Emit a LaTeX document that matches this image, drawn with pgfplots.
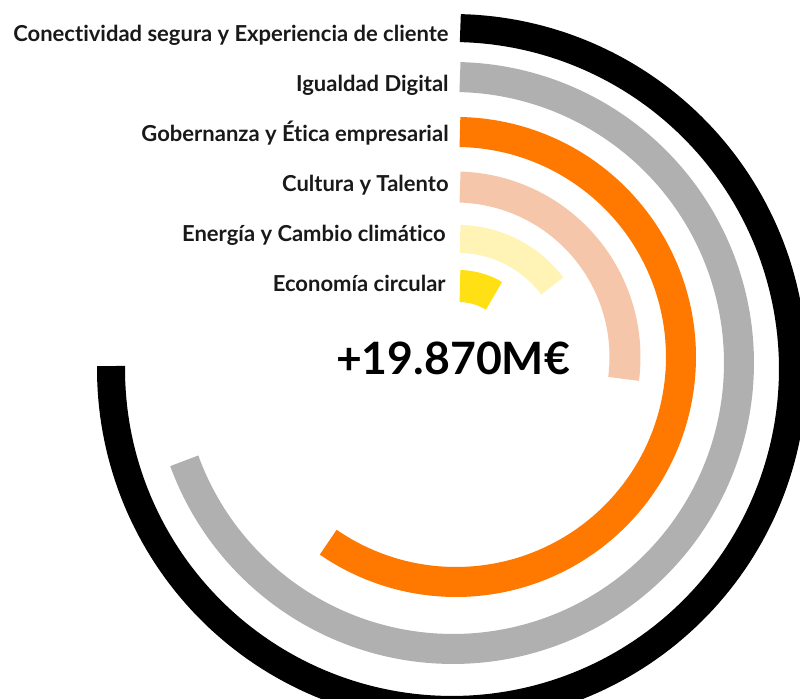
\documentclass[border=0pt]{standalone}
\usepackage{pgfplots}
\pgfplotsset{compat=1.18}
\usepgfplotslibrary{polar}
\usepackage{fontspec}
\setmainfont{Lato}[Ligatures=NoCommon]

\definecolor{cBlack}{HTML}{000000}
\definecolor{cGray}{HTML}{B0B0B0}
\definecolor{cOrange}{HTML}{FF7800}
\definecolor{cPeach}{HTML}{F5C6AA}
\definecolor{cLight}{HTML}{FFF4B5}
\definecolor{cYellow}{HTML}{FFE014}

\begin{document}
\begin{tikzpicture}[x=0.5pt,y=0.5pt]
  % reference is 800 x 699 px; 1px = 0.5pt, y measured upwards
  \useasboundingbox (0,0) rectangle (800,699);
  \clip (0,0) rectangle (800,699);
  \begin{polaraxis}[
    at={(229pt,168.5pt)}, anchor=origin,
    hide axis, scale only axis,
    width=400pt, height=400pt,
    ymin=0, ymax=400, clip=false,
    every axis plot/.append style={samples=200}
    ]
    % sweep clockwise from 12 o'clock: 270, 250, 215, 97, 53, 30 degrees
    \addplot[cBlack,  line width=14pt,   xshift=-3pt,   yshift=-3.5pt, domain=-180.5:88.6] {341};
    \addplot[cGray,   line width=15pt,   xshift=-2.5pt, yshift=-0.5pt, domain=-160:88.6]   {286};
    \addplot[cOrange, line width=15pt,   xshift=-1pt,   yshift=2.5pt,  domain=-124.6:89]   {225};
    \addplot[cPeach,  line width=15.5pt, xshift=-1.5pt, yshift=2.5pt,  domain=-7.4:88.3]   {170};
    \addplot[cLight,  line width=14pt,   yshift=2.5pt,  domain=37:89]    {118};
    \addplot[cYellow, line width=16pt,   yshift=2.5pt,  domain=59.5:88.4] {71};
  \end{polaraxis}
  \begin{scope}[every node/.style={anchor=base east, inner sep=0pt, font=\bfseries\fontsize{11}{13}\selectfont, text=black!90}]
    \node at (449,657) {Conectividad segura y Experiencia de cliente};
    \node at (449,607) {Igualdad Digital};
    \node at (449,557) {Gobernanza y Ética empresarial};
    \node at (449,507) {Cultura y Talento};
    \node at (446,457) {Energía y Cambio climático};
    \node at (446,407) {Economía circular};
  \end{scope}
  \node[anchor=base, inner sep=0pt, font=\bfseries\fontsize{22.3}{26}\selectfont] at (453,324) {+19.870M€};
\end{tikzpicture}
\end{document}
